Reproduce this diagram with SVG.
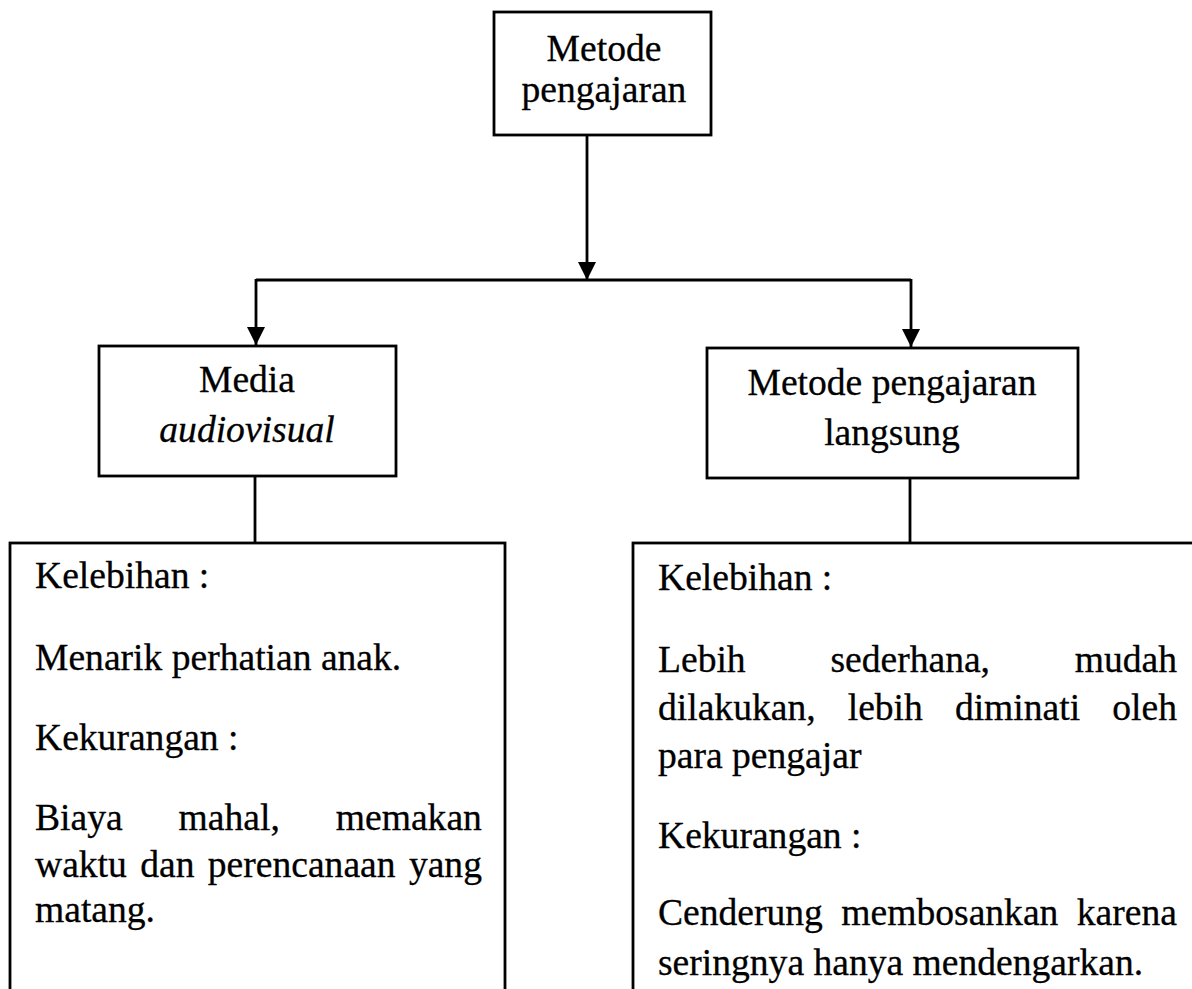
<svg xmlns="http://www.w3.org/2000/svg" width="1192" height="989" viewBox="0 0 1192 989">
<style>
.box{fill:#fff;stroke:#000;stroke-width:2.8}
.ln{fill:none;stroke:#000;stroke-width:2.8}
text{font-family:"Liberation Serif","Times New Roman",serif;font-size:37.6px;fill:#000;stroke:#000;stroke-width:0.3}
.c{text-anchor:middle}
.i{font-style:italic}
</style>
<defs>
<marker id="ah" markerUnits="userSpaceOnUse" markerWidth="20" markerHeight="20" viewBox="0 0 20 20" refX="18" refY="9" orient="auto">
<path d="M0,0 L18,9 L0,18 Z" fill="#000"/>
</marker>
</defs>
<g id="connectors">
<line class="ln" x1="587" y1="135" x2="587" y2="280" marker-end="url(#ah)"/>
<polyline class="ln" points="256,280 911,280"/>
<line class="ln" x1="256" y1="279" x2="256" y2="345" marker-end="url(#ah)"/>
<line class="ln" x1="911" y1="279" x2="911" y2="347" marker-end="url(#ah)"/>
<line class="ln" x1="255" y1="476" x2="255" y2="543"/>
<line class="ln" x1="910" y1="478" x2="910" y2="543"/>
</g>
<g id="node-top">
<rect class="box" x="494" y="12" width="217" height="123"/>
<text class="c" x="604" y="61">Metode</text>
<text class="c" x="604" y="102">pengajaran</text>
</g>
<g id="node-media">
<rect class="box" x="99" y="346" width="297" height="130"/>
<text class="c" x="247" y="392">Media</text>
<text class="c i" x="247" y="442">audiovisual</text>
</g>
<g id="node-langsung">
<rect class="box" x="707" y="348" width="371" height="130"/>
<text class="c" x="892" y="395">Metode pengajaran</text>
<text class="c" x="892" y="445">langsung</text>
</g>
<g id="node-media-detail">
<rect class="box" x="10" y="543" width="495" height="470"/>
<text x="35" y="588">Kelebihan :</text>
<text x="35" y="670">Menarik perhatian anak.</text>
<text x="35" y="750">Kekurangan :</text>
<text y="830"><tspan x="35">Biaya</tspan><tspan x="178.6">mahal,</tspan><tspan x="335.8">memakan</tspan></text>
<text y="877"><tspan x="35">waktu</tspan><tspan x="140.2">dan</tspan><tspan x="207.8">perencanaan</tspan><tspan x="408.9">yang</tspan></text>
<text x="35" y="922">matang.</text>
</g>
<g id="node-langsung-detail">
<rect class="box" x="633" y="543" width="580" height="470"/>
<text x="658" y="590">Kelebihan :</text>
<text y="672"><tspan x="658">Lebih</tspan><tspan x="830.4">sederhana,</tspan><tspan x="1074.7">mudah</tspan></text>
<text y="720"><tspan x="658">dilakukan,</tspan><tspan x="847.7">lebih</tspan><tspan x="954.9">diminati</tspan><tspan x="1112.3">oleh</tspan></text>
<text x="658" y="768">para pengajar</text>
<text x="658" y="848">Kekurangan :</text>
<text y="925"><tspan x="658">Cenderung</tspan><tspan x="841.3">membosankan</tspan><tspan x="1076.8">karena</tspan></text>
<text x="658" y="975">seringnya hanya mendengarkan.</text>
</g>
</svg>
